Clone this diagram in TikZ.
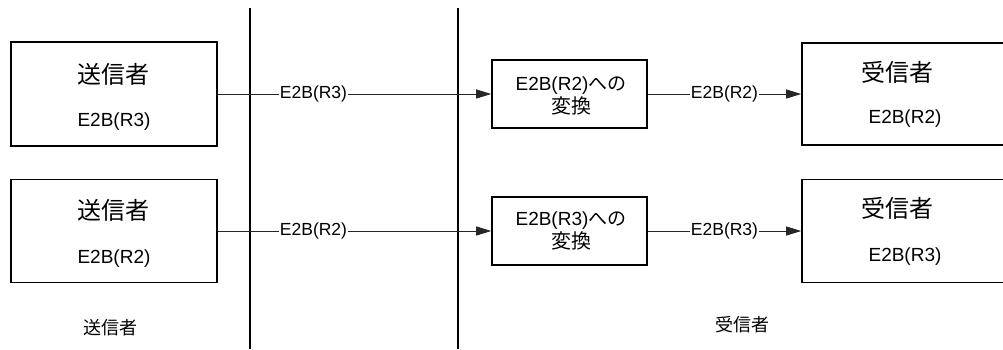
\documentclass[tikz,border=0pt]{standalone}
\usepackage{fontspec}
\setmainfont{Liberation Sans}
\newfontfamily\jpfont{Noto Sans CJK JP}
\usetikzlibrary{arrows.meta}
\begin{document}
\begin{tikzpicture}[x=1pt,y=-1pt,
  box/.style={draw,line width=1.6pt,inner sep=0pt,anchor=center},
  jp/.style={font=\jpfont\fontsize{24}{26}\selectfont,inner sep=0pt},
  lat/.style={font=\fontsize{19}{22}\selectfont,inner sep=0pt},
  conv/.style={font=\fontsize{19}{23}\selectfont,align=center,inner sep=0pt},
  flow/.style={draw=black!85,line width=0.9pt,-{Triangle[length=15pt,width=9pt]}},
  lbl/.style={fill=white,font=\fontsize{17.5}{20}\selectfont,inner sep=1pt},
  divider/.style={line width=1.5pt}]
\useasboundingbox (0,0) rectangle (1003,349);
\clip (0,0) rectangle (1003,349);
% dividers
\coordinate (d1t) at (250,8); \coordinate (d1b) at (250,349);
\coordinate (d2t) at (458,8); \coordinate (d2b) at (458,349);
\draw[divider] (d1t) -- (d1b);
\draw[divider] (d2t) -- (d2b);
% senders
\node[box,minimum width=206pt,minimum height=104pt] (s1) at (114,94) {};
\node[jp] (s1a) at (113,74) {送信者};
\node[lat] (s1b) at (114,122) {E2B(R3)};
\node[box,minimum width=206pt,minimum height=103pt] (s2) at (114,231) {};
\node[jp] (s2a) at (113,210) {送信者};
\node[lat] (s2b) at (114,259) {E2B(R2)};
% converters
\node[box,minimum width=155pt,minimum height=68pt] (c1) at (569.5,94) {};
\node[conv] (c1t) at (571,96) {E2B(R2){\jpfont への}\\{\jpfont\fontsize{20}{23}\selectfont 変換}};
\node[box,minimum width=155pt,minimum height=68pt] (c2) at (569.5,231) {};
\node[conv] (c2t) at (571,231) {E2B(R3){\jpfont への}\\{\jpfont\fontsize{20}{23}\selectfont 変換}};
% receivers
\node[box,minimum width=208pt,minimum height=102pt] (r1) at (906,94) {};
\node[jp] (r1a) at (897,72) {受信者};
\node[lat] (r1b) at (905,119) {E2B(R2)};
\node[box,minimum width=208pt,minimum height=103pt] (r2) at (906,231) {};
\node[jp] (r2a) at (897,208) {受信者};
\node[lat] (r2b) at (905,257) {E2B(R3)};
% flows
\draw[flow] (s1.east) -- node[lbl,pos=0.35] {E2B(R3)} (c1.west);
\draw[flow] (c1.east) -- node[lbl,pos=0.5] {E2B(R2)} (r1.west);
\draw[flow] (s2.east) -- node[lbl,pos=0.35] {E2B(R2)} (c2.west);
\draw[flow] (c2.east) -- node[lbl,pos=0.5] {E2B(R3)} (r2.west);
% bottom labels
\node[jp,font=\jpfont\fontsize{18}{20}\selectfont] (lsend) at (110,328) {送信者};
\node[jp,font=\jpfont\fontsize{18}{20}\selectfont] (lrecv) at (742,325) {受信者};
\end{tikzpicture}
\end{document}
